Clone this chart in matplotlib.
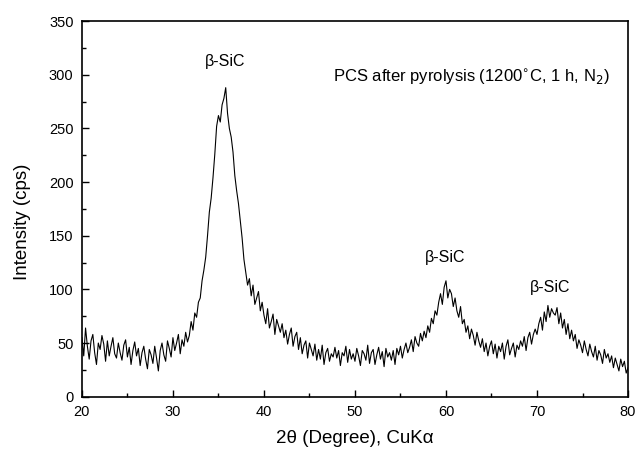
import numpy as np
import matplotlib
matplotlib.use("Agg")
import matplotlib.pyplot as plt
from matplotlib.ticker import MultipleLocator

plt.rcParams['font.family'] = ['Liberation Sans', 'DejaVu Sans']

# scan from 20 to 80 deg, 0.2 deg step
two_theta = np.linspace(20.0, 80.0, 301)

# intensity (cps), one row per 2 deg
intensity = [
    55, 38, 64, 47, 35, 52, 58, 41, 30, 50,
    44, 57, 49, 33, 52, 38, 47, 55, 40, 36,
    50, 41, 34, 48, 53, 37, 46, 30, 43, 51,
    38, 45, 29, 41, 47, 35, 26, 44, 39, 31,
    47, 36, 24, 43, 50, 39, 33, 52, 45, 37,
    55, 43, 50, 58, 40, 53, 47, 60, 51, 57,
    70, 62, 78, 74, 88, 92, 108, 118, 130, 150,
    172, 185, 204, 226, 252, 262, 256, 272, 278, 288,
    264, 250, 242, 228, 206, 192, 180, 164, 148, 128,
    116, 104, 110, 94, 104, 86, 92, 98, 80, 88,
    76, 68, 82, 64, 70, 77, 58, 72, 66, 60,
    68, 55, 62, 49, 58, 64, 47, 56, 60, 44,
    55, 40, 48, 52, 36, 50, 44, 38, 49, 34,
    44, 35, 48, 30, 41, 45, 33, 40, 37, 46,
    36, 43, 29, 41, 38, 47, 32, 44, 35, 40,
    33, 45, 38, 29, 43, 40, 34, 48, 31, 41,
    44, 30, 39, 46, 35, 42, 28, 45, 37, 41,
    34, 43, 30, 45, 39, 47, 36, 44, 50, 41,
    46, 53, 42, 56, 50, 47, 59, 52, 61, 55,
    66, 60, 73, 68, 80, 76, 88, 96, 86, 102,
    108, 92, 100, 96, 84, 92, 80, 74, 84, 68,
    72, 60, 66, 54, 63, 57, 48, 60, 52, 46,
    54, 42, 50, 38, 47, 52, 40, 49, 36, 47,
    42, 50, 35, 47, 53, 39, 45, 50, 37, 48,
    44, 52, 47, 56, 43, 55, 60, 49, 58, 63,
    58, 68, 74, 62, 79, 70, 85, 74, 82, 78,
    76, 83, 68, 78, 64, 72, 58, 68, 54, 62,
    52, 58, 45, 53, 48, 41, 52, 44, 38, 49,
    42, 37, 47, 34, 43, 39, 31, 44, 36, 40,
    32, 38, 27, 36, 30, 24, 35, 28, 33, 22,
    27,
]

peak_pos = [35.7, 59.9, 71.4]
peak_lab_y = [312, 130, 102]

fig = plt.figure(figsize=(6.35, 4.5), dpi=100)
ax = fig.add_axes([0.129, 0.1185, 0.860, 0.8345])

ax.plot(two_theta, intensity, color="black", lw=0.8)

for xp, yp in zip(peak_pos, peak_lab_y):
    ax.text(xp, yp, "\u03b2-SiC", ha="center", va="center", fontsize=11.5)

ax.text(78.0, 298, "PCS after pyrolysis (1200$^{\\circ}$C, 1 h, N$_2$)",
        ha="right", va="center", fontsize=12)

ax.set_xlim(20, 80)
ax.set_ylim(0, 350)
ax.xaxis.set_major_locator(MultipleLocator(10))
ax.xaxis.set_minor_locator(MultipleLocator(5))
ax.yaxis.set_major_locator(MultipleLocator(50))
ax.yaxis.set_minor_locator(MultipleLocator(25))
ax.tick_params(which="both", direction="in", top=False, right=False,
               labelsize=10.5, width=1)
ax.tick_params(which="major", length=5, pad=6)
ax.tick_params(which="minor", length=3)
for s in ax.spines.values():
    s.set_linewidth(1.2)

ax.set_xlabel("2\u03b8 (Degree), CuK\u03b1", fontsize=13.5)
ax.set_ylabel("Intensity (cps)", fontsize=13.5)
ax.xaxis.set_label_coords(0.5, -0.09)
ax.yaxis.set_label_coords(-0.093, 0.465)

fig.savefig("out.png", dpi=100)
